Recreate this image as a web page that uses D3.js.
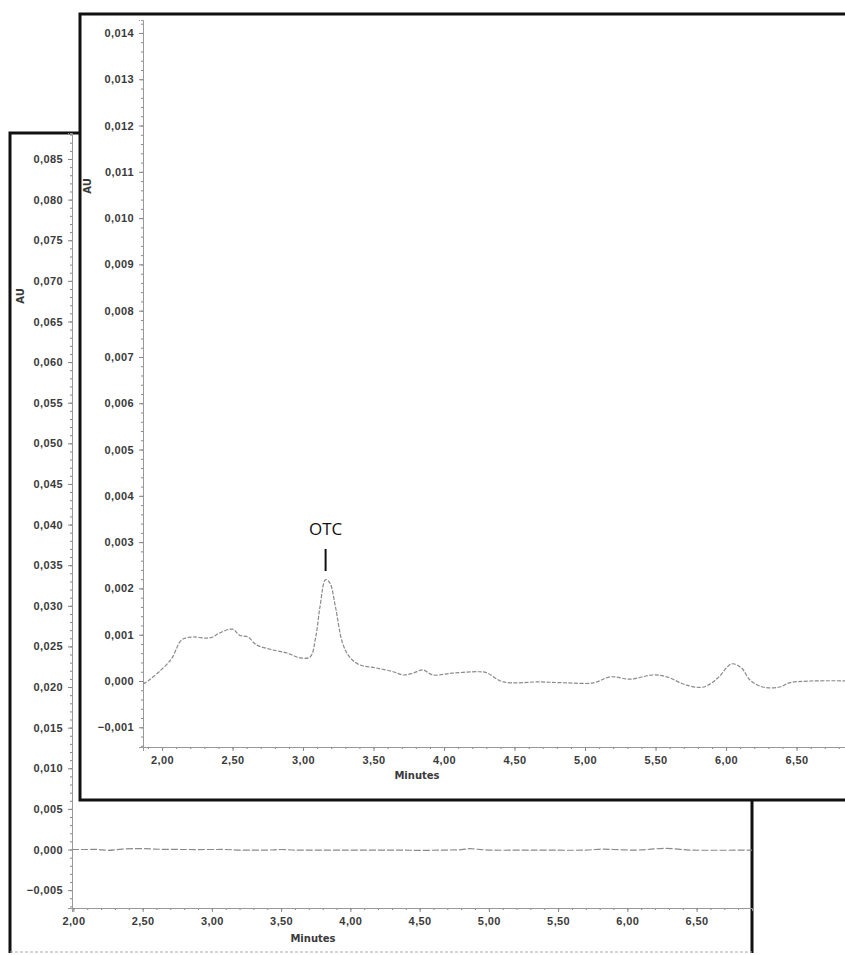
<!DOCTYPE html>
<html>
<head>
<meta charset="utf-8">
<script src="https://cdn.jsdelivr.net/npm/d3@7"></script>
<style>
  body { margin: 0; background: #fff; }
  svg { display: block; font-family: "DejaVu Sans", sans-serif; }
  .tick text { fill: #3a3a3a; font-weight: bold; letter-spacing: 0.4px; }
</style>
</head>
<body>
<svg id="chrom" width="845" height="955"></svg>
<script>
// back chromatogram (full scale)
var backTime = [1.99, 2.10, 2.18, 2.25, 2.35, 2.47, 2.56, 2.63, 2.80, 3.00, 3.10, 3.20, 3.40, 3.50, 3.60, 3.95, 4.30, 4.50, 4.70, 4.80, 4.86, 4.92, 5.00, 5.30, 5.70, 5.82, 5.90, 6.05, 6.15, 6.27, 6.38, 6.45, 6.90];
var backAU = [0, 0, 0, -0.0001, 0.00005, 0.00012, 0.00007, 0.00003, 0, 0, 0, -0.00007, -0.00007, 0, -0.00007, -0.00007, -0.00007, -0.0001, -0.00007, -0.00002, 0.0001, 0.00003, -0.00007, -0.00007, -0.00007, 0.00005, 0, -0.00007, 0, 0.00015, 0.00002, -0.00007, -0.00007];
var backYTicks = [-0.005, 0, 0.005, 0.010, 0.015, 0.020, 0.025, 0.030, 0.035, 0.040, 0.045, 0.050, 0.055, 0.060, 0.065, 0.070, 0.075, 0.080, 0.085];

// front chromatogram (zoomed, OTC peak)
var frontTime = [1.865, 1.88, 2.06, 2.14, 2.22, 2.34, 2.41, 2.50, 2.55, 2.61, 2.67, 2.79, 2.89, 2.98, 3.05, 3.09, 3.12, 3.16, 3.19, 3.23, 3.28, 3.33, 3.40, 3.52, 3.64, 3.71, 3.78, 3.85, 3.92, 4.06, 4.24, 4.30, 4.42, 4.68, 4.87, 5.06, 5.18, 5.32, 5.48, 5.58, 5.72, 5.84, 5.94, 6.04, 6.11, 6.17, 6.26, 6.38, 6.45, 6.60, 6.95];
var frontAU = [-0.00005, -0.00004, 0.00045, 0.00089, 0.00095, 0.00093, 0.00104, 0.00112, 0.00099, 0.00095, 0.00078, 0.00067, 0.0006, 0.0005, 0.00052, 0.00095, 0.0016, 0.00219, 0.00212, 0.0016, 0.00082, 0.00052, 0.00035, 0.00028, 0.0002, 0.00013, 0.00017, 0.00024, 0.00013, 0.00017, 0.0002, 0.00018, -0.00002, -0.00002, -0.00004, -0.00004, 0.00009, 0.00004, 0.00013, 0.00009, -0.00009, -0.00013, 0.00006, 0.00037, 0.00028, 0.00002, -0.00013, -0.00013, -0.00004, 0, 0];
var frontYTicks = [-0.001, 0, 0.001, 0.002, 0.003, 0.004, 0.005, 0.006, 0.007, 0.008, 0.009, 0.010, 0.011, 0.012, 0.013, 0.014];

var xTicks = [2.0, 2.5, 3.0, 3.5, 4.0, 4.5, 5.0, 5.5, 6.0, 6.5];
var peakName = "OTC", peakTime = 3.16;

var svg = d3.select("#chrom");
var commaFmt = function (dec) {
    return function (d) { return d3.format("." + dec + "f")(d).replace(".", ","); };
};

function styleAxis(sel) {
    sel.select(".domain").attr("stroke", "#999").attr("stroke-dasharray", "2,1");
    sel.selectAll(".tick line").attr("stroke", "#888");
}

// ---------- BACK PANEL ----------
var bx = d3.scaleLinear().domain([1.99, 6.9]).range([72, 752]),
    by = d3.scaleLinear().domain([-0.0072, 0.0882]).range([908, 133]);

var back = svg.append("g");
back.append("path")
    .attr("d", "M10,953 L10,133 L752,133 L752,953")
    .attr("fill", "none").attr("stroke", "#111").attr("stroke-width", 3);
back.append("line")
    .attr("x1", 10).attr("x2", 752).attr("y1", 952).attr("y2", 952)
    .attr("stroke", "#aaa").attr("stroke-dasharray", "3,2");

back.append("g").attr("transform", "translate(72,0)")
    .call(d3.axisLeft(by).tickValues(d3.range(-0.007, 0.0881, 0.001)).tickSize(2).tickFormat(""))
    .call(styleAxis);
back.append("g").attr("transform", "translate(72,0)")
    .call(d3.axisLeft(by).tickValues(backYTicks).tickSize(4).tickPadding(5).tickFormat(commaFmt(3)))
    .call(styleAxis)
    .selectAll("text").attr("font-size", 11);

back.append("g").attr("transform", "translate(0,908)")
    .call(d3.axisBottom(bx).tickValues(d3.range(2.0, 6.9, 0.1)).tickSize(2).tickFormat(""))
    .call(styleAxis);
back.append("g").attr("transform", "translate(0,908)")
    .call(d3.axisBottom(bx).tickValues(xTicks).tickSize(4).tickPadding(5).tickFormat(commaFmt(2)))
    .call(styleAxis)
    .selectAll("text").attr("font-size", 11);

back.append("text").attr("x", 313).attr("y", 942).attr("text-anchor", "middle")
    .attr("font-size", 10).attr("font-weight", "bold").attr("fill", "#3a3a3a").text("Minutes");
back.append("text").attr("transform", "translate(24,296) rotate(-90)").attr("text-anchor", "middle")
    .attr("font-size", 10).attr("font-weight", "bold").attr("fill", "#3a3a3a").text("AU");

back.append("path")
    .datum(d3.zip(backTime, backAU))
    .attr("fill", "none").attr("stroke", "#8a8a8a").attr("stroke-width", 1.2)
    .attr("stroke-dasharray", "7,2")
    .attr("d", d3.line().x(function (d) { return bx(d[0]); }).y(function (d) { return by(d[1]); })
        .curve(d3.curveCatmullRom));

// ---------- FRONT PANEL ----------
var fx = d3.scaleLinear().domain([1.865, 6.95]).range([143, 860]),
    fy = d3.scaleLinear().domain([-0.001426, 0.01428]).range([747, 20]);

var front = svg.append("g");
front.append("rect")
    .attr("x", 80).attr("y", 14).attr("width", 800).attr("height", 786)
    .attr("fill", "#fff").attr("stroke", "#111").attr("stroke-width", 3);

front.append("g").attr("transform", "translate(143,0)")
    .call(d3.axisLeft(fy).tickValues(d3.range(-0.0014, 0.01421, 0.0002)).tickSize(2).tickFormat(""))
    .call(styleAxis);
front.append("g").attr("transform", "translate(143,0)")
    .call(d3.axisLeft(fy).tickValues(frontYTicks).tickSize(4).tickPadding(5).tickFormat(commaFmt(3)))
    .call(styleAxis)
    .selectAll("text").attr("font-size", 11);

front.append("g").attr("transform", "translate(0,747)")
    .call(d3.axisBottom(fx).tickValues(d3.range(1.9, 6.95, 0.1)).tickSize(2).tickFormat(""))
    .call(styleAxis);
front.append("g").attr("transform", "translate(0,747)")
    .call(d3.axisBottom(fx).tickValues(xTicks).tickSize(4).tickPadding(5).tickFormat(commaFmt(2)))
    .call(styleAxis)
    .selectAll("text").attr("font-size", 11);

front.append("text").attr("x", 417).attr("y", 779).attr("text-anchor", "middle")
    .attr("font-size", 10).attr("font-weight", "bold").attr("fill", "#3a3a3a").text("Minutes");
front.append("text").attr("transform", "translate(91,186) rotate(-90)").attr("text-anchor", "middle")
    .attr("font-size", 10).attr("font-weight", "bold").attr("fill", "#3a3a3a").text("AU");

front.append("path")
    .datum(d3.zip(frontTime, frontAU))
    .attr("fill", "none").attr("stroke", "#8a8a8a").attr("stroke-width", 1.2)
    .attr("stroke-dasharray", "4,1.5")
    .attr("d", d3.line().x(function (d) { return fx(d[0]); }).y(function (d) { return fy(d[1]); })
        .curve(d3.curveCatmullRom));

// peak label
front.append("line")
    .attr("x1", fx(peakTime)).attr("x2", fx(peakTime))
    .attr("y1", 549).attr("y2", 571)
    .attr("stroke", "#111").attr("stroke-width", 2);
front.append("text")
    .attr("x", fx(peakTime)).attr("y", 535).attr("text-anchor", "middle")
    .attr("font-family", "'Open Sans', sans-serif").attr("font-size", 17).attr("fill", "#111")
    .text(peakName);
</script>
</body>
</html>
